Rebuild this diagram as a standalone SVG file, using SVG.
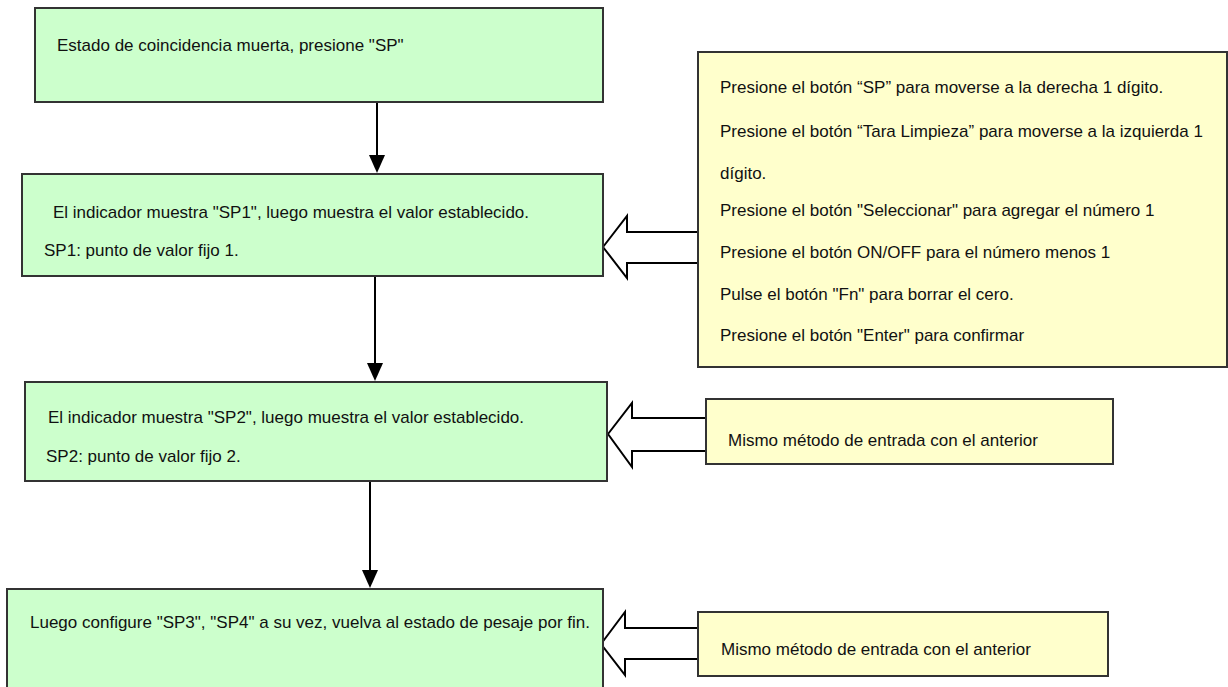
<svg xmlns="http://www.w3.org/2000/svg" width="1228" height="687" viewBox="0 0 1228 687">
  <defs>
    <style>
      .step { fill: #ccffcc; stroke: #333; stroke-width: 2; }
      .note { fill: #ffffcc; stroke: #333; stroke-width: 2; }
      .txt { font-family: "Liberation Sans", Arial, sans-serif; font-size: 17px; fill: #111; }
      .flow { stroke: #000; stroke-width: 2; fill: none; }
      .block { fill: #fff; stroke: #000; stroke-width: 2; stroke-linejoin: miter; }
      .tip { fill: #000; }
    </style>
  </defs>

  <!-- flow connectors and input block arrows -->
  <g id="connectors">
    <line class="flow" x1="377" y1="102" x2="377" y2="156"/>
    <path class="tip" d="M369,155 L385,155 L377,173 Z"/>
    <line class="flow" x1="375" y1="276" x2="375" y2="364"/>
    <path class="tip" d="M367,363 L383,363 L375,381 Z"/>
    <line class="flow" x1="370" y1="481" x2="370" y2="571"/>
    <path class="tip" d="M362,570 L378,570 L370,588 Z"/>

    <polygon class="block" points="603,247 627,216 627,232 698,232 698,263 627,263 627,278"/>
    <polygon class="block" points="608,434 632,403 632,418 706,418 706,451 632,451 632,467"/>
    <polygon class="block" points="601,644 625,612 625,628 698,628 698,659 625,659 625,675"/>
  </g>

  <g id="step-start">
    <rect class="step" x="35" y="8" width="568" height="94"/>
    <text class="txt" x="57" y="51">Estado de coincidencia muerta, presione "SP"</text>
  </g>

  <g id="step-sp1">
    <rect class="step" x="22" y="174" width="581" height="102"/>
    <text class="txt" x="53" y="218">El indicador muestra "SP1", luego muestra el valor establecido.</text>
    <text class="txt" x="44" y="256">SP1: punto de valor fijo 1.</text>
  </g>

  <g id="step-sp2">
    <rect class="step" x="25" y="382" width="582" height="99"/>
    <text class="txt" x="48" y="423">El indicador muestra "SP2", luego muestra el valor establecido.</text>
    <text class="txt" x="46" y="462">SP2: punto de valor fijo 2.</text>
  </g>

  <g id="step-sp34">
    <rect class="step" x="7" y="589" width="596" height="100"/>
    <text class="txt" x="30" y="628">Luego configure "SP3", "SP4" a su vez, vuelva al estado de pesaje por fin.</text>
  </g>

  <g id="note-keys">
    <rect class="note" x="698" y="52" width="529" height="315"/>
    <text class="txt" x="720" y="93">Presione el botón “SP” para moverse a la derecha 1 dígito.</text>
    <text class="txt" x="720" y="137">Presione el botón “Tara Limpieza” para moverse a la izquierda 1</text>
    <text class="txt" x="720" y="179">dígito.</text>
    <text class="txt" x="720" y="216">Presione el botón "Seleccionar" para agregar el número 1</text>
    <text class="txt" x="720" y="258">Presione el botón ON/OFF para el número menos 1</text>
    <text class="txt" x="720" y="300">Pulse el botón "Fn" para borrar el cero.</text>
    <text class="txt" x="720" y="341">Presione el botón "Enter" para confirmar</text>
  </g>

  <g id="note-same-1">
    <rect class="note" x="706" y="399" width="407" height="65"/>
    <text class="txt" x="728" y="446">Mismo método de entrada con el anterior</text>
  </g>

  <g id="note-same-2">
    <rect class="note" x="698" y="612" width="410" height="64"/>
    <text class="txt" x="721" y="655">Mismo método de entrada con el anterior</text>
  </g>
</svg>
